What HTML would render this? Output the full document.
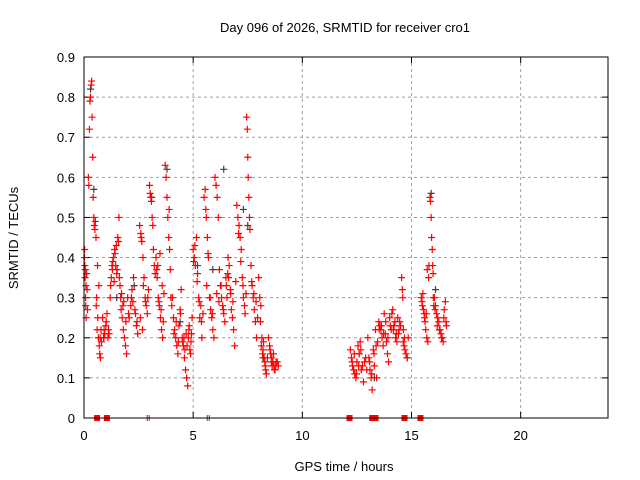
<!DOCTYPE html>
<html><head><meta charset="utf-8"><style>
html,body{margin:0;padding:0;background:#fff;}
svg{display:block;font-family:"Liberation Sans",sans-serif;}
</style></head><body>
<svg id="chart" width="640" height="480">
<text x="345" y="32" text-anchor="middle" font-size="13" fill="#000">Day 096 of 2026, SRMTID for receiver cro1</text>
<text x="344" y="471" text-anchor="middle" font-size="13" fill="#000">GPS time / hours</text>
<text transform="translate(18,238) rotate(-90)" text-anchor="middle" font-size="13" fill="#000">SRMTID / TECUs</text>
<g id="grid"></g>
<g id="ticks"></g>
<g id="marks"></g>
<rect x="84" y="57" width="524" height="361" fill="none" stroke="#000" stroke-width="1"/>
</svg>
<script>
const xTicks=[0,5,10,15,20];
const yTicks=[0,0.1,0.2,0.3,0.4,0.5,0.6,0.7,0.8,0.9];
const yTickLabels=["0","0.1","0.2","0.3","0.4","0.5","0.6","0.7","0.8","0.9"];
const redTimes=[
0.02,0.04,0.05,0.07,0.08,0.1,0.03,0.06,0.09,
0.2,0.22,0.25,0.27,0.3,0.33,0.35,0.37,0.4,0.42,0.45,0.47,0.5,
0.55,0.58,0.6,0.63,0.66,0.7,0.72,0.75,0.78,0.62,0.68,
0.85,0.9,0.95,1.0,1.05,1.1,
1.2,1.25,1.3,1.35,1.4,1.45,1.5,1.55,1.6,1.65,1.7,1.75,1.8,1.85,1.9,1.95,1.28,1.38,1.48,1.58,1.68,1.78,
2.0,2.07,2.14,2.2,2.27,2.33,2.4,2.46,
2.55,2.6,2.65,2.7,2.75,2.8,2.85,2.9,2.95,2.58,2.68,
3.0,3.03,3.06,3.09,3.12,3.15,3.18,3.22,3.26,
3.3,3.35,3.4,3.45,3.5,3.55,3.6,3.38,3.48,3.58,
3.72,3.76,3.8,3.84,3.88,3.92,3.95,3.98,
4.05,4.1,4.15,4.2,4.25,4.3,4.35,4.4,4.45,
4.5,4.55,4.6,4.65,4.7,4.75,4.8,4.85,4.9,4.95,
5.0,5.05,5.1,5.15,5.2,5.25,5.3,5.35,5.4,
5.5,5.55,5.6,5.65,5.7,5.75,5.8,5.85,5.9,5.95,5.62,
6.0,6.05,6.1,6.15,6.2,6.25,6.3,6.35,6.4,6.45,
6.5,6.55,6.6,6.65,6.7,6.75,6.8,6.85,6.9,
7.0,7.05,7.1,7.15,7.2,7.25,7.3,7.35,
7.45,7.48,7.5,7.52,7.55,7.6,7.65,7.7,7.75,7.8,7.85,7.9,
8.0,8.05,8.1,8.15,8.2,8.25,8.3,8.35,
8.45,8.5,8.55,8.6,8.65,8.7,8.75,8.8,8.9,
12.2,12.25,12.3,12.35,12.4,12.45,12.5,12.55,12.6,12.65,12.7,12.8,12.9,
13.0,13.05,13.1,13.15,13.2,13.25,13.3,13.35,13.4,
13.5,13.55,13.6,13.65,13.7,13.75,13.8,13.85,13.9,13.95,
14.0,14.07,14.14,14.2,14.27,14.33,14.4,14.46,
14.55,14.58,14.6,14.63,14.66,14.7,14.75,14.8,14.85,
15.45,15.5,15.55,15.6,15.65,15.7,15.75,15.72,15.78,15.8,15.52,
15.85,15.87,15.9,15.92,15.95,15.97,15.99,16.0,16.02,
16.05,16.1,16.15,16.2,16.25,16.3,16.35,16.4,16.45,16.5,16.55,16.6];
const redValues=[
0.40,0.38,0.35,0.30,0.28,0.25,0.42,0.37,0.33,
0.6,0.58,0.72,0.79,0.80,0.83,0.84,0.75,0.65,0.55,0.5,0.48,0.47,
0.45,0.3,0.22,0.25,0.2,0.18,0.16,0.15,0.22,0.38,0.33,
0.25,0.2,0.21,0.23,0.26,0.2,
0.3,0.35,0.37,0.4,0.42,0.38,0.36,0.45,0.5,0.33,0.27,0.25,0.22,0.2,0.18,0.16,0.38,0.34,0.43,0.44,0.3,0.28,
0.3,0.25,0.28,0.32,0.35,0.27,0.23,0.21,
0.48,0.46,0.44,0.4,0.35,0.3,0.28,0.26,0.32,0.25,0.22,
0.58,0.56,0.55,0.54,0.5,0.48,0.42,0.38,0.36,
0.4,0.35,0.3,0.28,0.25,0.22,0.2,0.38,0.41,0.33,
0.63,0.6,0.55,0.5,0.45,0.42,0.37,0.3,
0.3,0.25,0.22,0.2,0.18,0.16,0.23,0.27,0.32,
0.2,0.18,0.15,0.12,0.1,0.08,0.22,0.17,0.19,0.25,
0.42,0.4,0.38,0.45,0.36,0.3,0.25,0.28,0.2,
0.55,0.57,0.5,0.45,0.4,0.3,0.27,0.25,0.22,0.2,0.33,
0.6,0.58,0.55,0.5,0.37,0.33,0.3,0.28,0.26,0.24,
0.35,0.3,0.4,0.38,0.32,0.27,0.25,0.22,0.18,
0.53,0.5,0.48,0.45,0.42,0.35,0.3,0.28,
0.75,0.72,0.65,0.6,0.55,0.47,0.38,0.33,0.3,0.27,0.24,0.2,
0.35,0.3,0.28,0.2,0.17,0.15,0.13,0.11,
0.2,0.18,0.16,0.15,0.14,0.13,0.12,0.14,0.13,
0.17,0.15,0.13,0.12,0.11,0.1,0.14,0.18,0.16,0.19,0.12,0.09,0.15,
0.2,0.15,0.12,0.1,0.07,0.17,0.13,0.22,0.1,
0.24,0.23,0.22,0.2,0.18,0.26,0.21,0.19,0.16,0.14,
0.25,0.22,0.27,0.23,0.2,0.19,0.21,0.24,
0.35,0.32,0.3,0.22,0.18,0.17,0.16,0.15,0.2,
0.3,0.28,0.27,0.25,0.22,0.2,0.19,0.37,0.35,0.38,0.31,
0.55,0.54,0.5,0.45,0.42,0.38,0.36,0.3,0.28,
0.3,0.28,0.26,0.25,0.24,0.22,0.21,0.2,0.19,0.27,0.29,0.23];
const extraTimes=[
0.12,0.14,0.16,0.52,0.56,0.74,0.8,0.92,1.02,1.12,1.15,
1.22,1.32,1.42,1.52,1.62,1.72,1.82,1.92,2.04,2.17,2.24,2.36,2.43,
2.62,2.72,2.82,2.92,3.33,3.43,3.53,3.63,3.66,3.9,4.02,4.12,4.22,4.32,4.42,
4.52,4.58,4.62,4.68,4.72,4.78,4.82,4.88,4.92,5.02,5.08,5.18,5.28,5.38,5.45,
5.58,5.68,5.78,5.88,6.08,6.18,6.28,6.38,6.52,6.58,6.62,6.72,6.82,6.95,7.08,7.18,7.28,7.38,7.42,
7.58,7.68,7.78,7.88,7.95,8.08,8.12,8.18,8.22,8.28,8.32,8.4,8.52,8.58,8.62,8.68,8.72,8.78,8.85,
12.28,12.38,12.48,12.58,12.68,12.75,12.85,12.95,13.08,13.18,13.28,13.38,13.45,
13.52,13.62,13.72,13.82,13.92,14.03,14.1,14.17,14.24,14.3,14.37,14.43,14.5,14.62,14.68,
15.48,15.58,15.62,15.68,16.08,16.18,16.28,16.38,16.48,16.58];
const extraValues=[
0.36,0.32,0.27,0.49,0.28,0.2,0.19,0.22,0.24,0.22,0.21,
0.33,0.39,0.41,0.37,0.35,0.31,0.29,0.24,0.26,0.3,0.29,0.26,0.24,
0.45,0.33,0.29,0.3,0.37,0.29,0.27,0.24,0.31,0.52,0.28,0.21,0.24,0.19,0.26,
0.19,0.2,0.17,0.21,0.18,0.2,0.23,0.16,0.21,0.39,0.43,0.34,0.29,0.24,0.26,
0.52,0.41,0.3,0.26,0.31,0.29,0.33,0.27,0.33,0.36,0.35,0.31,0.29,0.34,0.46,0.39,0.33,0.26,0.31,
0.5,0.34,0.31,0.29,0.25,0.24,0.18,0.16,0.19,0.14,0.12,0.15,0.17,0.14,0.13,0.16,0.12,0.13,0.14,
0.14,0.16,0.11,0.13,0.17,0.13,0.14,0.12,0.14,0.11,0.16,0.18,0.19,
0.22,0.23,0.21,0.24,0.2,0.23,0.26,0.22,0.24,0.21,0.25,0.22,0.23,0.19,0.2,
0.29,0.26,0.24,0.26,0.27,0.23,0.22,0.2,0.25,0.24];
const grayTimes=[0.3,0.45,0.9,1.5,2.3,3.1,3.8,4.4,5.2,5.9,6.4,7.3,7.5,8.2,12.6,13.3,14.8,15.9,16.1];
const grayValues=[0.82,0.57,0.2,0.3,0.33,0.55,0.62,0.24,0.38,0.37,0.62,0.52,0.48,0.15,0.16,0.1,0.15,0.56,0.32];
const zeroTimes=[0.6,1.05,12.16,13.2,13.35,14.68,15.41];
const zeroThinTimes=[2.94,5.69];

const X0=84,X1=608,Y0=418,Y1=57,XMAX=24,YMAX=0.9;
function xs(t){return X0+(X1-X0)*t/XMAX;}
function ys(v){return Y0-(Y0-Y1)*v/YMAX;}
const NS="http://www.w3.org/2000/svg";
function mk(tag,attrs,parent){const e=document.createElementNS(NS,tag);for(const k in attrs)e.setAttribute(k,attrs[k]);parent.appendChild(e);return e;}
const grid=document.getElementById('grid'),ticks=document.getElementById('ticks'),marks=document.getElementById('marks');
xTicks.forEach(t=>{
  const x=xs(t);
  if(t>0){const g=mk('line',{x1:x,x2:x,y1:Y1,y2:Y0,stroke:'#a0a0a0','stroke-dasharray':'3,3'},grid);
  
  }
  mk('line',{x1:x,x2:x,y1:Y0,y2:Y0-6,stroke:'#000'},ticks);
  mk('line',{x1:x,x2:x,y1:Y1,y2:Y1+6,stroke:'#000'},ticks);
  const l=mk('text',{x:x,y:Y0+22,'text-anchor':'middle','font-size':'13'},ticks);
  l.textContent=t;
  
  
});
yTicks.forEach((v,i)=>{
  const y=ys(v);
  if(v>0&&v<YMAX){const g=mk('line',{x1:X0,x2:X1,y1:y,y2:y,stroke:'#a0a0a0','stroke-dasharray':'3,3'},grid);
  
  }
  mk('line',{x1:X0,x2:X0+6,y1:y,y2:y,stroke:'#000'},ticks);
  mk('line',{x1:X1,x2:X1-6,y1:y,y2:y,stroke:'#000'},ticks);
  const l=mk('text',{x:X0-9,y:y+5,'text-anchor':'end','font-size':'13'},ticks);
  l.textContent=yTickLabels[i];
  
  
});
function plus(t,v,color,name){
  const x=xs(t),y=ys(v);
  const p=mk('path',{d:`M${x-3.5},${y}H${x+3.5}M${x},${y-3.5}V${y+3.5}`,stroke:color,'stroke-width':'1.2',fill:'none'},marks);
  
  
}
grayTimes.forEach((t,i)=>plus(t,grayValues[i],'#404040','gray-point'));
redTimes.forEach((t,i)=>plus(t,redValues[i],'#ff0000','red-point'));
extraTimes.forEach((t,i)=>plus(t,extraValues[i],'#ff0000','red-point'));
zeroTimes.forEach(t=>{
  const r=mk('rect',{x:xs(t)-3,y:Y0-3,width:6,height:6,fill:'#ff0000'},marks);
  
  
});
zeroThinTimes.forEach(t=>{
  const p=mk('path',{d:`M${xs(t)-1},${Y0-3}V${Y0+3}M${xs(t)+1},${Y0-3}V${Y0+3}`,stroke:'#803030','stroke-width':'1'},marks);
  
  
});
</script>
</body></html>
